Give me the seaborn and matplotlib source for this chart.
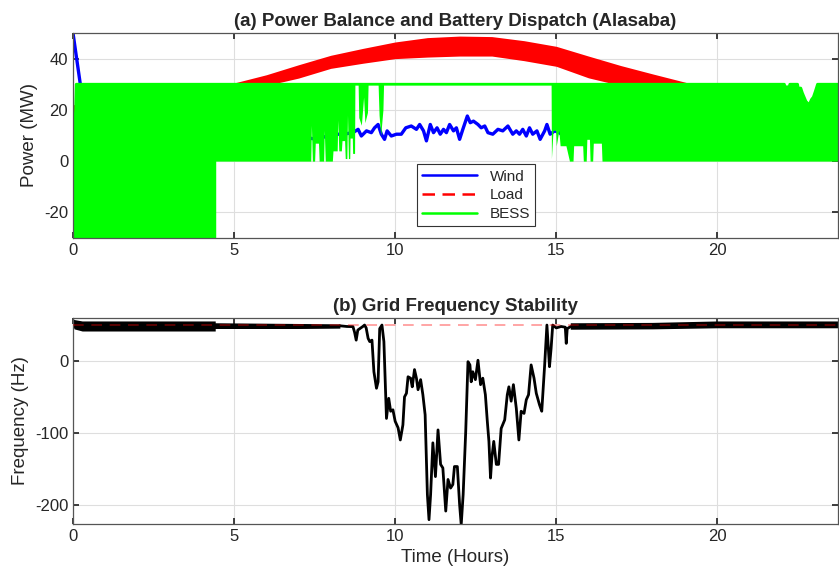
import numpy as np
import matplotlib
matplotlib.use("Agg")
import matplotlib.pyplot as plt
from matplotlib.lines import Line2D
import seaborn as sns

# ---- data ----
# (a) power balance, hours
wind_t = [0, 0.25, 0.5, 1.5, 3, 4.5, 6, 7.0,
          7.61, 7.87, 8.18, 8.38, 8.69, 8.85, 8.95, 9.11, 9.26, 9.36,
          9.47, 9.57, 9.67, 9.75, 9.88, 10.04, 10.19, 10.33, 10.50, 10.66,
          10.76, 10.88, 10.97, 11.09, 11.19, 11.30, 11.40, 11.50, 11.59, 11.69,
          11.81, 11.90, 12.00, 12.10, 12.24, 12.33, 12.43, 12.57, 12.67, 12.78,
          12.88, 13.03, 13.19, 13.34, 13.50, 13.65, 13.76, 13.86, 13.96, 14.07,
          14.17, 14.27, 14.40, 14.50, 14.64, 14.71, 14.81, 14.95, 15.10, 15.26,
          15.41, 16.5, 18, 20, 22, 22.9, 23.75]
wind_mw = [50, 28, 18, 14, 12, 11, 10, 9.5,
           8.5, 9.8, 10.5, 10.5, 11.1, 12.4, 9.8, 11.8, 11.1, 13.0,
           14.3, 10.5, 8.5, 11.8, 9.8, 10.5, 10.5, 13.0, 13.7, 12.4,
           14.3, 11.8, 7.9, 14.3, 11.1, 13.0, 10.5, 12.4, 11.1, 14.3,
           11.8, 13.0, 8.5, 12.4, 17.6, 15.0, 15.6, 14.3, 13.0, 13.7,
           11.1, 10.5, 12.4, 11.8, 13.7, 10.5, 11.8, 10.5, 12.4, 9.8,
           13.0, 10.5, 11.8, 8.5, 11.8, 14.3, 10.5, 11.8, 11.1, 9.2,
           10.5, 12, 14, 16, 18, 19, 18]

# load is a noisy band: lower / upper envelope
load_t = [0, 2, 4, 5, 6, 7, 8, 9, 10, 11, 12, 13, 14, 15, 16, 17, 18, 19, 20, 22, 23.75]
load_hi = [22, 24, 28, 30.5, 33.7, 37.6, 41.3, 44, 46.5, 48.2, 48.8, 48.6, 47, 44.8, 41,
           37.3, 34, 30.8, 27, 23, 22]
load_lo = [18, 19, 21, 24, 29.5, 32.4, 36.2, 38.2, 40, 40.6, 41, 41, 39.2, 37, 32.5,
           29.5, 26, 23, 21, 19, 18]

# BESS switches fast between its limits: lower / upper envelope
bess_t = [0.00, 0.08, 0.10, 4.43, 4.43, 7.38, 7.40, 7.43, 7.50, 7.52,
          7.62, 7.64, 7.78, 7.80, 7.83, 8.05, 8.07, 8.20, 8.22, 8.25,
          8.33, 8.35, 8.43, 8.45, 8.50, 8.52, 8.55, 8.59, 8.60, 8.67,
          8.68, 8.74, 8.75, 8.85, 8.87, 8.95, 9.02, 9.06, 9.14, 9.16,
          9.47, 9.50, 9.55, 9.62, 9.64, 14.84, 14.85, 14.90, 14.98, 15.00,
          15.08, 15.12, 15.30, 15.41, 15.52, 15.54, 15.82, 15.84, 15.93, 15.95,
          16.03, 16.05, 16.13, 16.15, 16.40, 16.42, 22.08, 22.10, 22.23, 22.25,
          22.49, 22.51, 22.59, 22.64, 22.75, 22.85, 22.92, 22.98, 23.04, 23.11,
          23.75]
bess_lo = [-30, -30, -30, -30, 0, 0, 14, 0, 0, 7,
           7, 0, 0, 12, 0, 0, 4, 4, 16, 4,
           4, 8, 8, 1, 1, 18, 1, 1, 9, 9,
           3, 3, 30, 30, 17, 14, 25, 15, 19, 30,
           30, 18, 10, 20, 30, 30, 1, 12, 12, 6,
           12, 6, 6, 0, 0, 6, 6, 0, 0, 8.5,
           8.5, 0, 0, 7, 7, 0, 0, 0, 0, 0,
           0, 0, 0, 0, 0, 0, 0, 0, 0, 0,
           0]
bess_hi = [0, 20, 30, 30, 30, 30, 30, 30, 30, 30,
           30, 30, 30, 30, 30, 30, 30, 30, 30, 30,
           30, 30, 30, 30, 30, 30, 30, 30, 30, 30,
           30, 30, 30, 30, 30, 30, 30, 30, 30, 30,
           30, 30, 30, 30, 30, 30, 30, 30, 30, 30,
           30, 30, 30, 30, 30, 30, 30, 30, 30, 30,
           30, 30, 30, 30, 30, 30, 30, 29, 29, 30,
           30, 28.5, 28.5, 26.6, 23.3, 22, 24, 25, 27.2, 30,
           30]

# (b) grid frequency
freq_t = [8.28, 8.50, 8.69, 8.74, 8.79, 8.84, 8.99, 9.05, 9.10, 9.16,
          9.21, 9.28, 9.34, 9.42, 9.47, 9.52, 9.59, 9.65, 9.73, 9.80,
          9.86, 9.93, 10.00, 10.09, 10.16, 10.24, 10.29, 10.35, 10.40, 10.48,
          10.53, 10.60, 10.66, 10.71, 10.79, 10.86, 10.93, 11.00, 11.05, 11.10,
          11.17, 11.25, 11.33, 11.41, 11.48, 11.57, 11.64, 11.72, 11.79, 11.84,
          11.93, 12.00, 12.05, 12.11, 12.19, 12.26, 12.32, 12.36, 12.41, 12.49,
          12.57, 12.65, 12.72, 12.80, 12.86, 12.91, 12.96, 13.00, 13.06, 13.14,
          13.21, 13.29, 13.40, 13.48, 13.53, 13.60, 13.67, 13.76, 13.84, 13.91,
          14.00, 14.07, 14.14, 14.22, 14.31, 14.38, 14.48, 14.55, 14.64, 14.71,
          14.79, 14.84, 14.89, 15.00, 15.15, 15.28, 15.31, 15.34, 15.45, 15.60]
freq_hz = [49, 48, 47.8, 40, 29, 43, 47.8, 50, 46, 31.5,
           27, 29, -15, -38, -29, 45, 50, 27, -80, -52,
           -70, -68, -84, -93, -110, -89, -50, -45, -22, -24,
           -36, -12, -24, -40, -26, -47, -75, -186, -221, -186,
           -114, -161, -96, -144, -149, -209, -165, -177, -172, -147,
           -147, -200, -228, -186, -98, -1, -5.5, -29, -15, -26,
           1, -33, -24, -47, -84, -112, -163, -135, -112, -144,
           -144, -94, -82, -47, -36, -56, -33, -66, -110, -70,
           -73, -54, -47, -5.5, -24, -45, -61, -70, -5.5, 50,
           -8, 17.6, 50, 46, 48, 47, 24.5, 45, 48, 48]

# noisy near-nominal parts of the frequency trace (nan = gap)
fband_t = [0, 0.05, 0.3, 4.43, 4.43, 7.0, 8.3, np.nan, 15.45, 18.0, 20.0, 23.75]
fband_hi = [59, 57, 55, 55, 52.5, 51.5, 51, np.nan, 52.5, 53, 55, 55]
fband_lo = [50, 44, 41, 41, 44.5, 44.5, 45, np.nan, 43.5, 44, 45.5, 45.5]
f_nominal = 50

# ---- style ----
sns.set_theme(style="ticks")
plt.rcParams['font.family'] = ['Liberation Sans', 'DejaVu Sans']
plt.rcParams.update({
    'axes.unicode_minus': False,
    'xtick.direction': 'in', 'ytick.direction': 'in',
    'xtick.top': True, 'ytick.right': True,
    'xtick.major.size': 4, 'ytick.major.size': 4,
    'xtick.color': '#262626', 'ytick.color': '#262626',
    'xtick.labelsize': 12, 'ytick.labelsize': 12,
    'axes.edgecolor': '#555555', 'axes.linewidth': 0.9,
})

fig = plt.figure(figsize=(8.39, 5.79), dpi=100)
ax1 = fig.add_axes([0.087, 0.589, 0.912, 0.354])
ax2 = fig.add_axes([0.087, 0.095, 0.912, 0.356])

# ---- (a) power balance ----  (wind, then load, then BESS on top)
sns.lineplot(x=wind_t, y=wind_mw, ax=ax1, color='#0000ff', lw=2.4, sort=False,
             estimator=None, zorder=1)
ax1.fill_between(load_t, load_lo, load_hi, color='#ff0000', lw=0, zorder=1.5)
ax1.fill_between(bess_t, bess_lo, bess_hi, color='#00ff00', lw=0, zorder=2)
sns.lineplot(x=bess_t, y=bess_hi, ax=ax1, color='#00ff00', lw=2, sort=False,
             estimator=None, zorder=2.1)

ax1.set_xlim(0, 23.75)
ax1.set_ylim(-30, 50)
ax1.set_xticks([0, 5, 10, 15, 20])
ax1.set_yticks([-20, 0, 20, 40])
ax1.set_ylabel('Power (MW)', fontsize=13.5, color='#262626')
ax1.set_title('(a) Power Balance and Battery Dispatch (Alasaba)', fontsize=13.5,
              fontweight='bold', pad=5)
ax1.grid(True, color='#dedede', lw=0.8)
ax1.set_axisbelow(True)

handles = [Line2D([], [], color='#0000ff', lw=1.8),
           Line2D([], [], color='#ff0000', lw=1.8, ls=(0, (5, 3))),
           Line2D([], [], color='#00ff00', lw=1.8)]
leg = ax1.legend(handles, ['Wind', 'Load', 'BESS'], loc='lower center',
                 bbox_to_anchor=(0.527, 0.02), fontsize=11, frameon=True,
                 fancybox=False, framealpha=1, edgecolor='#333333',
                 handlelength=3.6, labelspacing=0.3, borderpad=0.35)
leg.get_frame().set_linewidth(0.8)
leg.set_zorder(5)

# ---- (b) frequency ----
ax2.fill_between(fband_t, fband_lo, fband_hi, color='black', lw=0, zorder=2)
sns.lineplot(x=freq_t, y=freq_hz, ax=ax2, color='black', lw=2, sort=False,
             estimator=None, zorder=2.1)
ax2.axhline(f_nominal, color='red', alpha=0.45, lw=1.1, ls=(0, (7, 5)), zorder=3)

ax2.set_xlim(0, 23.75)
ax2.set_ylim(-227, 60)
ax2.set_xticks([0, 5, 10, 15, 20])
ax2.set_yticks([-200, -100, 0])
ax2.set_ylabel('Frequency (Hz)', fontsize=13.5, color='#262626')
ax2.set_xlabel('Time (Hours)', fontsize=13.5, color='#262626')
ax2.set_title('(b) Grid Frequency Stability', fontsize=13.5, fontweight='bold', pad=5)
ax2.grid(True, color='#dedede', lw=0.8)
ax2.set_axisbelow(True)

fig.savefig('out.png', dpi=100)
